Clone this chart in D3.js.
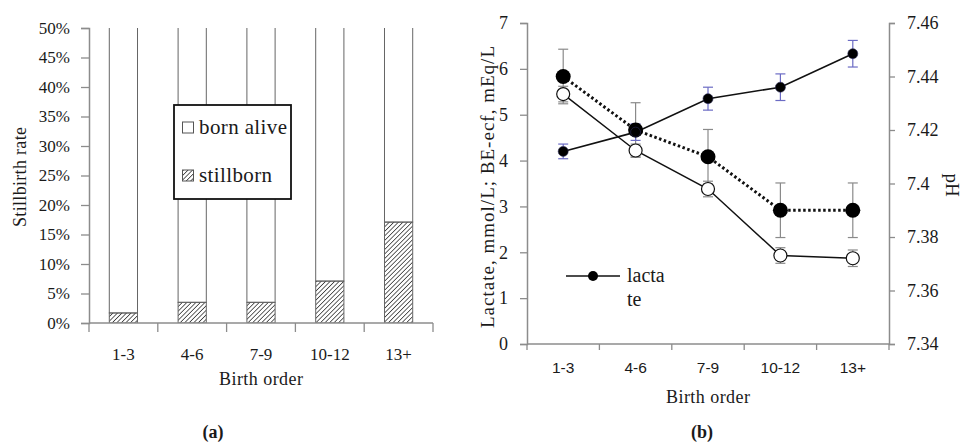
<!DOCTYPE html>
<html>
<head>
<meta charset="utf-8">
<script src="https://cdn.jsdelivr.net/npm/d3@7"></script>
<style>
  body { margin: 0; background: #fff; }
  svg { display: block; }
  text { font-family: "Liberation Serif", "Times New Roman", serif; fill: #1a1a1a; }
</style>
</head>
<body>
<svg id="chart" width="964" height="442"></svg>
<script>
// data
const categories = ["1-3", "4-6", "7-9", "10-12", "13+"];
const stillborn = [1.7, 3.5, 3.5, 7.1, 17.1];          // % per birth order
const pctTicks = [0, 5, 10, 15, 20, 25, 30, 35, 40, 45, 50];

const lactate = [4.2, 4.62, 5.35, 5.6, 6.33];
const lactateErr = [0.16, 0.18, 0.25, 0.29, 0.29];
const beEcf = [5.45, 4.22, 3.38, 1.93, 1.87];
const beEcfErr = [0.17, 0.14, 0.17, 0.17, 0.18];
const ph = [7.44, 7.42, 7.41, 7.39, 7.39];
const phErr = [0.0102, 0.0102, 0.0102, 0.0102, 0.0102];
const leftTicks = [0, 1, 2, 3, 4, 5, 6, 7];
const phTicks = [7.34, 7.36, 7.38, 7.4, 7.42, 7.44, 7.46];

const svg = d3.select("#chart");
const axisGrey = "#8c8c8c";

// hatch pattern for stillborn
const defs = svg.append("defs");
defs.append("pattern")
  .attr("id", "hatch")
  .attr("patternUnits", "userSpaceOnUse")
  .attr("width", 3.2)
  .attr("height", 4)
  .attr("patternTransform", "rotate(45)")
  .append("line")
  .attr("x1", 0).attr("y1", 0)
  .attr("x2", 0).attr("y2", 4)
  .attr("stroke", "#111")
  .attr("stroke-width", 1.3);

function styleAxis(ax, size) {
  ax.select(".domain").attr("stroke", axisGrey).attr("stroke-width", 1.5);
  ax.selectAll("line").attr("stroke", axisGrey).attr("stroke-width", 1.3);
  ax.selectAll("text").attr("font-size", size).attr("fill", "#1a1a1a")
    .style("font-family", "Liberation Serif, serif");
}

// ---------- (a) stillbirth rate ----------
const a = { left: 89, right: 433, top: 28, bottom: 323 };
const xa = d3.scaleBand()
  .domain(categories)
  .range([a.left, a.right])
  .paddingInner(0.59)
  .paddingOuter(0.295);
const ya = d3.scaleLinear().domain([0, 50]).range([a.bottom, a.top]);

defs.append("clipPath").attr("id", "clipA")
  .append("rect")
  .attr("x", a.left).attr("y", a.top)
  .attr("width", a.right - a.left).attr("height", a.bottom - a.top);

const ga = svg.append("g");
const bars = ga.append("g").attr("clip-path", "url(#clipA)");

// born alive = the rest of 100%, runs off the top of the axis
bars.selectAll("rect.alive")
  .data(categories)
  .enter()
  .append("rect")
  .attr("class", "alive")
  .attr("x", d => xa(d))
  .attr("width", xa.bandwidth())
  .attr("y", ya(100))
  .attr("height", (d, i) => ya(stillborn[i]) - ya(100))
  .attr("fill", "#fff")
  .attr("stroke", "#666");

bars.selectAll("rect.still")
  .data(categories)
  .enter()
  .append("rect")
  .attr("class", "still")
  .attr("x", d => xa(d))
  .attr("width", xa.bandwidth())
  .attr("y", (d, i) => ya(stillborn[i]))
  .attr("height", (d, i) => ya(0) - ya(stillborn[i]))
  .attr("fill", "url(#hatch)")
  .attr("stroke", "#666");

const yAxisA = ga.append("g")
  .attr("transform", `translate(${a.left},0)`)
  .call(d3.axisLeft(ya).tickValues(pctTicks).tickFormat(d => d + "%").tickSize(8).tickPadding(11));
// x axis with ticks on the category boundaries
const xAxisA = ga.append("g")
  .attr("transform", `translate(0,${a.bottom})`)
  .call(d3.axisBottom(xa).tickSize(0).tickPadding(25));
xAxisA.selectAll(".bound")
  .data(d3.range(categories.length + 1))
  .enter()
  .append("line")
  .attr("class", "bound")
  .attr("x1", i => a.left + i * xa.step())
  .attr("x2", i => a.left + i * xa.step())
  .attr("y1", 0).attr("y2", 9);
styleAxis(yAxisA, 17);
styleAxis(xAxisA, 17);
xAxisA.select(".domain").attr("d", `M${a.left},0H${a.right}`);

ga.append("text")
  .attr("transform", `translate(26,177) rotate(-90)`)
  .attr("text-anchor", "middle")
  .attr("font-size", 18)
  .attr("textLength", 100)
  .text("Stillbirth rate");
ga.append("text")
  .attr("x", 261).attr("y", 385)
  .attr("text-anchor", "middle")
  .attr("font-size", 18)
  .attr("textLength", 84)
  .text("Birth order");
ga.append("text")
  .attr("x", 213).attr("y", 438)
  .attr("text-anchor", "middle")
  .attr("font-size", 18)
  .attr("font-weight", "bold")
  .text("(a)");

// legend
const lg = ga.append("g");
lg.append("rect")
  .attr("x", 174).attr("y", 105).attr("width", 117).attr("height", 94)
  .attr("fill", "#fff").attr("stroke", "#111").attr("stroke-width", 1.8);
const legA = [
  { label: "born alive", fill: "#fff", y: 128, len: 88 },
  { label: "stillborn", fill: "url(#hatch)", y: 176, len: 73 }
];
legA.forEach(l => {
  lg.append("rect")
    .attr("x", 182.5).attr("y", l.y - 6).attr("width", 11).attr("height", 11)
    .attr("fill", l.fill).attr("stroke", "#555");
  lg.append("text")
    .attr("x", 199).attr("y", l.y + 6)
    .attr("font-size", 21)
    .attr("textLength", l.len)
    .text(l.label);
});

// ---------- (b) lactate, BE-ecf, pH ----------
const b = { left: 527, right: 889, top: 23, bottom: 344 };
const xb = d3.scaleBand().domain(categories).range([b.left, b.right]);
const cx = d => xb(d) + xb.bandwidth() / 2;
const yb = d3.scaleLinear().domain([0, 7]).range([b.bottom, b.top]);
const yph = d3.scaleLinear().domain([7.34, 7.46]).range([b.bottom, b.top]);

const gb = svg.append("g");

const yAxisL = gb.append("g")
  .attr("transform", `translate(${b.left},0)`)
  .call(d3.axisLeft(yb).tickValues(leftTicks).tickFormat(d3.format("d")).tickSize(7).tickPadding(12));
const yAxisR = gb.append("g")
  .attr("transform", `translate(${b.right},0)`)
  .call(d3.axisRight(yph).tickValues(phTicks).tickFormat(d3.format("")).tickSize(6).tickPadding(12));
const xAxisB = gb.append("g")
  .attr("transform", `translate(0,${b.bottom})`)
  .call(d3.axisBottom(xb).tickSize(0).tickPadding(18));
xAxisB.selectAll(".bound")
  .data(d3.range(categories.length + 1))
  .enter()
  .append("line")
  .attr("class", "bound")
  .attr("x1", i => b.left + i * xb.step())
  .attr("x2", i => b.left + i * xb.step())
  .attr("y1", 0).attr("y2", 6);
styleAxis(yAxisL, 18);
styleAxis(yAxisR, 18);
styleAxis(xAxisB, 15.5);
xAxisB.select(".domain").attr("d", `M${b.left},0H${b.right}`);
xAxisB.selectAll(".tick text")
  .style("font-family", "Liberation Sans, Arial, sans-serif");

// lines
const lineL = d3.line().x((d, i) => cx(categories[i])).y(d => yb(d));
const linePh = d3.line().x((d, i) => cx(categories[i])).y(d => yph(d));

gb.append("path").datum(beEcf).attr("d", lineL)
  .attr("fill", "none").attr("stroke", "#111").attr("stroke-width", 1.5);
gb.append("path").datum(lactate).attr("d", lineL)
  .attr("fill", "none").attr("stroke", "#111").attr("stroke-width", 1.6);
gb.append("path").datum(ph).attr("d", linePh)
  .attr("fill", "none").attr("stroke", "#111").attr("stroke-width", 3)
  .attr("stroke-dasharray", "2.5,2.5");

// error bars
function errorBars(vals, errs, scale, color) {
  const g = gb.append("g").attr("stroke", color).attr("stroke-width", 1.2);
  vals.forEach((v, i) => {
    const x = cx(categories[i]);
    const y0 = scale(v - errs[i]);
    const y1 = scale(v + errs[i]);
    g.append("line").attr("x1", x).attr("x2", x).attr("y1", y0).attr("y2", y1);
    g.append("line").attr("x1", x - 5).attr("x2", x + 5).attr("y1", y0).attr("y2", y0);
    g.append("line").attr("x1", x - 5).attr("x2", x + 5).attr("y1", y1).attr("y2", y1);
  });
}
errorBars(ph, phErr, yph, "#8a8a8a");
errorBars(beEcf, beEcfErr, yb, "#8a8a8a");
errorBars(lactate, lactateErr, yb, "#6b6bc4");

// markers
gb.selectAll("circle.ph").data(ph).enter().append("circle")
  .attr("class", "ph")
  .attr("cx", (d, i) => cx(categories[i])).attr("cy", d => yph(d))
  .attr("r", 7.5).attr("fill", "#000");
gb.selectAll("circle.be").data(beEcf).enter().append("circle")
  .attr("class", "be")
  .attr("cx", (d, i) => cx(categories[i])).attr("cy", d => yb(d))
  .attr("r", 6.5).attr("fill", "#fff").attr("stroke", "#111").attr("stroke-width", 1.2);
gb.selectAll("circle.lac").data(lactate).enter().append("circle")
  .attr("class", "lac")
  .attr("cx", (d, i) => cx(categories[i])).attr("cy", d => yb(d))
  .attr("r", 5).attr("fill", "#000").attr("stroke", "#2a2a55").attr("stroke-width", 0.6);

// legend (only the lactate entry, wrapped)
gb.append("line")
  .attr("x1", 566).attr("x2", 620).attr("y1", 276).attr("y2", 276)
  .attr("stroke", "#111").attr("stroke-width", 1.6);
gb.append("circle")
  .attr("cx", 593).attr("cy", 276).attr("r", 5).attr("fill", "#000");
gb.append("text").attr("x", 627).attr("y", 282).attr("font-size", 20).text("lacta");
gb.append("text").attr("x", 627).attr("y", 306).attr("font-size", 20).text("te");

// titles
gb.append("text")
  .attr("transform", `translate(494,187) rotate(-90)`)
  .attr("text-anchor", "middle")
  .attr("font-size", 19)
  .attr("textLength", 282)
  .text("Lactate, mmol/L; BE-ecf, mEq/L");
gb.append("text")
  .attr("transform", `translate(946,185) rotate(90)`)
  .attr("text-anchor", "middle")
  .attr("font-size", 19)
  .text("pH");
gb.append("text")
  .attr("x", 708).attr("y", 403)
  .attr("text-anchor", "middle")
  .attr("font-size", 18)
  .attr("textLength", 84)
  .text("Birth order");
gb.append("text")
  .attr("x", 702).attr("y", 438)
  .attr("text-anchor", "middle")
  .attr("font-size", 18)
  .attr("font-weight", "bold")
  .text("(b)");
</script>
</body>
</html>
